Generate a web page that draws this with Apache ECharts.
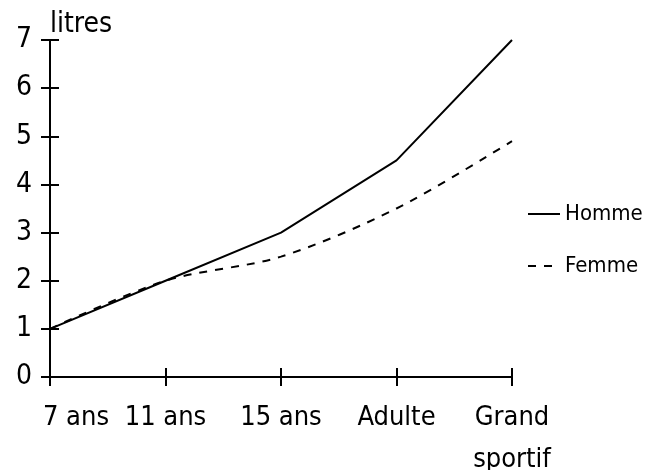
<!DOCTYPE html>
<html>
<head>
<meta charset="utf-8">
<script src="https://cdn.jsdelivr.net/npm/echarts@6/dist/echarts.min.js"></script>
<style>
  html, body { margin: 0; padding: 0; background: #fff; }
  #chart { width: 645px; height: 470px; }
</style>
</head>
<body>
<div id="chart"></div>
<script>
// data
const categories = ["7 ans", "11 ans", "15 ans", "Adulte", "Grand\nsportif"];
const homme = [1, 2, 3, 4.5, 7];
const femme = [1, 2, 2.5, 3.5, 4.9];
const yTicks = [0, 1, 2, 3, 4, 5, 6, 7];

const FONT = "'DejaVu Sans Condensed', 'DejaVu Sans', sans-serif";

const chart = echarts.init(document.getElementById("chart"));

const xData = categories.map((c, i) =>
  i === 0
    ? { value: c, textStyle: { padding: [0, 0, 0, 52] } }
    : c
);

const baseY = {
  type: "value",
  min: yTicks[0],
  max: yTicks[yTicks.length - 1],
  interval: 1,
  splitLine: { show: false },
};

const option = {
  animation: false,
  backgroundColor: "#fff",
  grid: { left: 50, right: 133, top: 40, bottom: 93, outerBoundsMode: "none" },
  legend: {
    orient: "vertical",
    left: 522,
    top: 198,
    itemWidth: 32,
    itemHeight: 14,
    itemGap: 30,
    itemStyle: { opacity: 0 },
    lineStyle: { opacity: 1 },
    textStyle: { color: "#000", fontFamily: FONT, fontSize: 22 },
    data: ["Homme", "Femme"],
  },
  xAxis: [
    {
      type: "category",
      boundaryGap: false,
      data: xData,
      axisLine: { lineStyle: { color: "#000", width: 2 } },
      axisTick: { show: true, length: 9, lineStyle: { color: "#000", width: 2 } },
      axisLabel: {
        color: "#000",
        fontFamily: FONT,
        fontSize: 27,
        margin: 20,
        lineHeight: 42,
        verticalAlign: "top",
        interval: 0,
      },
    },
    {
      type: "category",
      boundaryGap: false,
      position: "bottom",
      data: categories,
      axisLine: { show: false },
      axisTick: { show: true, inside: true, length: 9, lineStyle: { color: "#000", width: 2 } },
      axisLabel: { show: false },
    },
  ],
  yAxis: [
    Object.assign({}, baseY, {
      name: "litres",
      nameLocation: "end",
      nameGap: 1,
      nameTextStyle: {
        color: "#000",
        fontFamily: FONT,
        fontSize: 28,
        align: "left",
        verticalAlign: "bottom",
      },
      axisLine: { show: true, lineStyle: { color: "#000", width: 2 } },
      axisTick: { show: true, length: 9, lineStyle: { color: "#000", width: 2 } },
      axisLabel: {
        color: "#000",
        fontFamily: FONT,
        fontSize: 28,
        margin: 18,
        verticalAlign: "middle",
        padding: [0, 0, 8, 0],
      },
    }),
    Object.assign({}, baseY, {
      position: "left",
      axisLine: { show: false },
      axisTick: { show: true, inside: true, length: 9, lineStyle: { color: "#000", width: 2 } },
      axisLabel: { show: false },
    }),
  ],
  series: [
    {
      name: "Homme",
      type: "line",
      data: homme,
      symbol: "none",
      lineStyle: { color: "#000", width: 2, type: "solid" },
      itemStyle: { color: "#000" },
    },
    {
      name: "Femme",
      type: "line",
      data: femme,
      symbol: "none",
      smooth: 0.3,
      lineStyle: { color: "#000", width: 2, type: [8, 8] },
      itemStyle: { color: "#000" },
    },
  ],
};

chart.setOption(option);
</script>
</body>
</html>
